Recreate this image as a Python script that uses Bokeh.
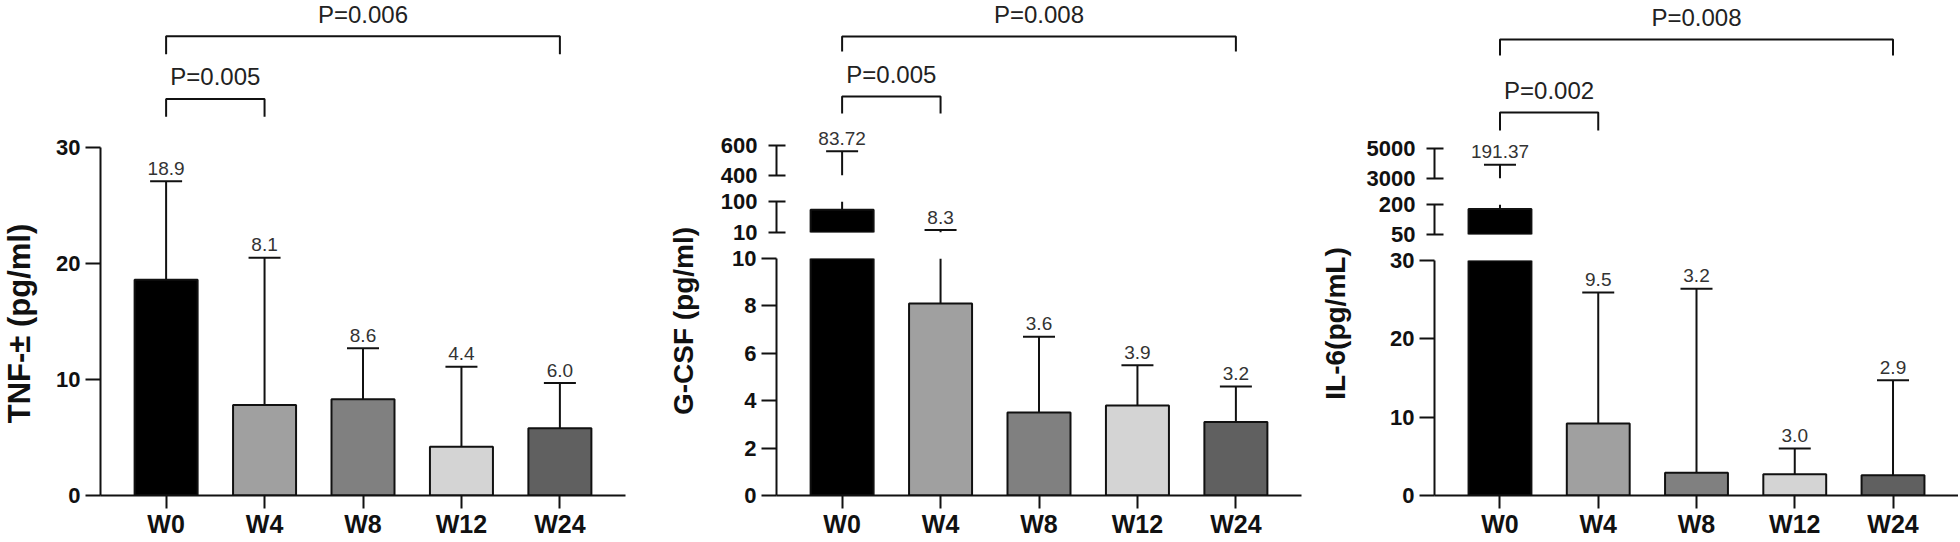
import numpy as np
from bokeh.plotting import figure
from bokeh.layouts import row, column
from bokeh.models import Range1d, FixedTicker, ColumnDataSource
from bokeh.core.properties import value
from bokeh.embed import file_html
from bokeh.resources import INLINE

# ---------------- data ----------------
categories = ["W0", "W4", "W8", "W12", "W24"]
bar_colors = ["#000000", "#a0a0a0", "#808080", "#d4d4d4", "#606060"]

tnf_mean = [18.6, 7.8, 8.3, 4.2, 5.8]
tnf_err_top = [27.1, 20.5, 12.7, 11.1, 9.7]
tnf_labels = ["18.9", "8.1", "8.6", "4.4", "6.0"]
tnf_comparisons = [("W0", "W4", "P=0.005"), ("W0", "W24", "P=0.006")]
tnf_segments = [(0, 30)]
tnf_ticks = [[0, 10, 20, 30]]

gcsf_mean = [76.0, 8.1, 3.5, 3.8, 3.1]
gcsf_err_top = [561.0, 17.0, 6.7, 5.5, 4.6]
gcsf_labels = ["83.72", "8.3", "3.6", "3.9", "3.2"]
gcsf_comparisons = [("W0", "W4", "P=0.005"), ("W0", "W24", "P=0.008")]
gcsf_segments = [(0, 10), (10, 100), (400, 600)]
gcsf_ticks = [[0, 2, 4, 6, 8, 10], [10, 100], [400, 600]]

il6_mean = [178.0, 9.2, 2.9, 2.7, 2.6]
il6_err_top = [3920.0, 25.9, 26.4, 6.0, 14.7]
il6_labels = ["191.37", "9.5", "3.2", "3.0", "2.9"]
il6_comparisons = [("W0", "W4", "P=0.002"), ("W0", "W24", "P=0.008")]
il6_segments = [(0, 30), (50, 200), (3000, 5000)]
il6_ticks = [[0, 10, 20, 30], [50, 200], [3000, 5000]]

# ---------------- layout / style ----------------
H = 540
FONT = "Liberation Sans"
LINE = "#111111"
PAD = 0.1665
VALUE_OFFSET = -13
P_OFFSET = -22


def make_panel(ylabel, ylabel_size, label_x, means, tops, labels, segs, ticks, comps,
               seg_px, brk_px, col_w, b_left, b_right, label_w):
    n = len(categories)
    xs = list(range(n))
    xr = Range1d(-0.5 - PAD, n - 0.5 + PAD)
    figs = []
    canvas_top = 0
    nseg = len(segs)
    for k in reversed(range(nseg)):
        lo, hi = segs[k]
        cy_lo, cy_hi = seg_px[k]
        pxu = (cy_lo - cy_hi) / (hi - lo)
        is_top = (k == nseg - 1)
        is_bottom = (k == 0)
        frame_top = 0 if is_top else cy_hi
        top_border = frame_top - canvas_top
        y_end = hi + (cy_hi - frame_top) / pxu
        vis_hi = y_end if is_top else hi
        if is_bottom:
            bb = H - cy_lo
        else:
            gap = seg_px[k - 1][1] - cy_lo
            bb = gap - gap // 2
        height = int(top_border + (cy_lo - frame_top) + bb)
        p = figure(width=col_w, height=height, x_range=xr, y_range=Range1d(lo, y_end),
                   output_backend="svg", toolbar_location=None, tools="",
                   min_border_left=b_left, min_border_right=b_right,
                   min_border_top=int(top_border), min_border_bottom=int(bb),
                   x_axis_location="below" if is_bottom else None,
                   y_axis_location="left")
        p.outline_line_color = None
        p.grid.visible = False
        p.background_fill_color = "white"
        p.border_fill_color = "white"

        ya = p.yaxis[0]
        ya.bounds = (lo, hi)
        ya.ticker = FixedTicker(ticks=ticks[k])
        ya.minor_tick_line_color = None
        ya.major_tick_out = 15 if k == 0 else 8
        ya.major_tick_in = 0 if k == 0 else 9
        ya.major_label_standoff = 5 if k == 0 else 11
        ya.axis_line_width = 2
        ya.axis_line_color = LINE
        ya.major_tick_line_width = 2
        ya.major_tick_line_color = LINE
        ya.major_label_text_font = FONT
        ya.major_label_text_font_style = "bold"
        ya.major_label_text_font_size = "22px"
        ya.major_label_text_color = "#111111"

        if is_bottom:
            xa = p.xaxis[0]
            xa.ticker = FixedTicker(ticks=xs)
            xa.major_label_overrides = {i: c for i, c in enumerate(categories)}
            xa.minor_tick_line_color = None
            xa.major_tick_out = 13
            xa.major_tick_in = 0
            xa.major_label_standoff = 1
            xa.axis_line_width = 2
            xa.axis_line_color = LINE
            xa.major_tick_line_width = 2
            xa.major_tick_line_color = LINE
            xa.major_label_text_font = FONT
            xa.major_label_text_font_style = "bold"
            xa.major_label_text_font_size = "25px"
            xa.major_label_text_color = "#111111"

        # bars: the part of each bar that falls in this axis segment
        bi = [i for i in xs if means[i] > lo]
        bars = ColumnDataSource(dict(
            x=bi,
            top=[min(means[i], vis_hi) for i in bi],
            bottom=[lo] * len(bi),
            color=[bar_colors[i] for i in bi]))
        p.vbar(x="x", top="top", bottom="bottom", width=0.64, fill_color="color",
               line_color=LINE, line_width=2, source=bars)

        # error lines: part inside this segment
        ei = [i for i in xs if min(tops[i], vis_hi) > max(means[i], lo)]
        errs = ColumnDataSource(dict(
            x=ei,
            y0=[max(means[i], lo) for i in ei],
            y1=[min(tops[i], vis_hi) for i in ei]))
        p.segment(x0="x", y0="y0", x1="x", y1="y1", line_color=LINE, line_width=2, source=errs)

        # caps and value labels where the error top lies in this segment
        ci = [i for i in xs if lo <= tops[i] <= vis_hi]
        caps = ColumnDataSource(dict(
            x=ci, err=[tops[i] for i in ci], lab=[labels[i] for i in ci]))
        p.scatter(x="x", y="err", marker="dash", size=32, line_color=LINE, line_width=2,
                  source=caps)
        p.text(x="x", y="err", text="lab", text_align="center", text_baseline="alphabetic",
               y_offset=VALUE_OFFSET, text_font=value(FONT), text_font_size="19px",
               text_color="#333333", source=caps)

        if is_top:
            def to_data(cy):
                return lo + (cy_lo - cy) / pxu
            for (a, b, txt), (yh, yf) in zip(comps, brk_px):
                ia, ib = categories.index(a), categories.index(b)
                vh, vf = to_data(yh), to_data(yf)
                p.line(x=[ia, ia, ib, ib], y=[vf, vh, vh, vf], line_color=LINE, line_width=2)
                p.text(x=[(ia + ib) / 2], y=[vh], text=[txt], text_align="center",
                       text_baseline="alphabetic", y_offset=P_OFFSET, text_font=value(FONT),
                       text_font_size="24px", text_color="#222222")
        figs.append(p)
        canvas_top = cy_lo + bb

    # y-axis title figure
    top_px = seg_px[-1][1]
    bot_px = seg_px[0][0]
    lf = figure(width=label_w, height=H, x_range=Range1d(0, label_w), y_range=Range1d(H, 0),
                output_backend="svg", toolbar_location=None, tools="", min_border=0,
                x_axis_location=None, y_axis_location=None)
    lf.outline_line_color = None
    lf.grid.visible = False
    lf.text(x=[label_x], y=[(top_px + bot_px) / 2], text=[ylabel], angle=np.pi / 2,
            text_align="center", text_baseline="middle", text_font=value(FONT),
            text_font_style="bold", text_font_size=ylabel_size, text_color="#111111")
    return [lf, column(*figs)]


panel1 = make_panel("TNF-\u00b1 (pg/ml)", "31px", 18.5, tnf_mean, tnf_err_top, tnf_labels,
                    tnf_segments, tnf_ticks, tnf_comparisons,
                    seg_px=[(498, 148)],
                    brk_px=[(99, 117), (36, 54)],
                    col_w=618, b_left=56, b_right=37, label_w=44)
panel2 = make_panel("G-CSF (pg/ml)", "28px", 21, gcsf_mean, gcsf_err_top, gcsf_labels,
                    gcsf_segments, gcsf_ticks, gcsf_comparisons,
                    seg_px=[(496, 258), (232, 201), (175, 145)],
                    brk_px=[(96, 113), (36, 51)],
                    col_w=606, b_left=70, b_right=11, label_w=44)
panel3 = make_panel("IL-6(pg/mL)", "28px", 23, il6_mean, il6_err_top, il6_labels,
                    il6_segments, il6_ticks, il6_comparisons,
                    seg_px=[(498, 260), (234, 204), (178, 148)],
                    brk_px=[(112, 130), (39, 55)],
                    col_w=602, b_left=78, b_right=0, label_w=44)

layout = row(*(panel1 + panel2 + panel3))

open("out.html", "w").write(file_html(layout, INLINE))
